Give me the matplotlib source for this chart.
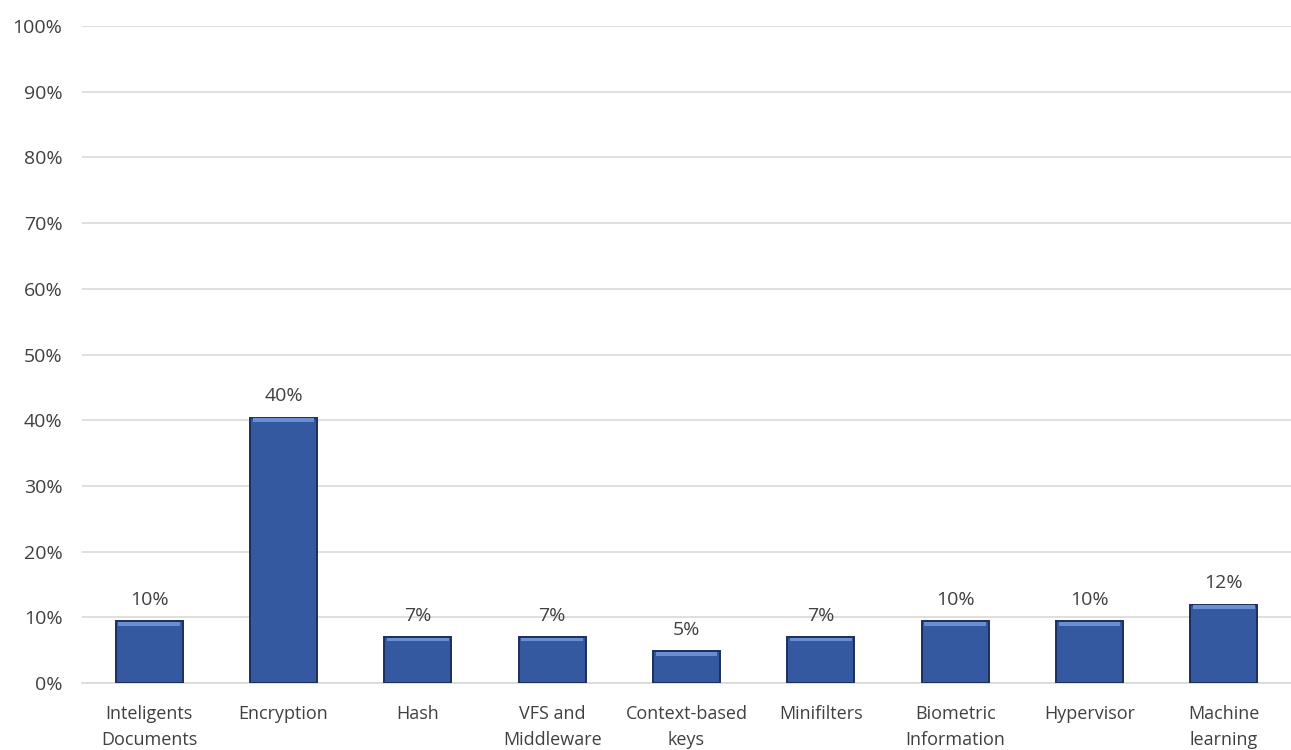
#!/usr/bin/env python3

import matplotlib.pyplot as plt
from matplotlib.ticker import FuncFormatter

categories = [
    "Inteligents\nDocuments",
    "Encryption",
    "Hash",
    "VFS and\nMiddleware",
    "Context-based\nkeys",
    "Minifilters",
    "Biometric\nInformation",
    "Hypervisor",
    "Machine\nlearning",
]
shares = [9.4, 40.4, 7.0, 7.0, 4.8, 7.0, 9.4, 9.4, 11.9]
labels = ["10%", "40%", "7%", "7%", "5%", "7%", "10%", "10%", "12%"]
yticks = list(range(0, 101, 10))


def main():
    plt.rcParams["font.family"] = ["Open Sans", "DejaVu Sans"]
    text_color = "#404040"

    fig = plt.figure(figsize=(12.91, 7.5), dpi=100)
    ax = fig.add_axes([0.0635, 0.0893, 0.9365, 0.876])

    x = range(len(categories))
    ax.bar(x, shares, width=0.5, color="#3459A0", edgecolor="#1B2F5C",
           linewidth=1.4, zorder=3)
    # bevel highlight along the top edge of each bar
    ax.bar(x, [0.55] * len(shares), bottom=[s - 0.65 for s in shares],
           width=0.46, color="#6A8ED2", linewidth=0, zorder=4)

    for xi, s, lab in zip(x, shares, labels):
        ax.annotate(lab, (xi, s), xytext=(0, 9), textcoords="offset points",
                    ha="center", va="bottom", fontsize=14, color=text_color)

    ax.set_xlim(-0.5, len(categories) - 0.5)
    ax.set_ylim(0, 100)
    ax.set_yticks(yticks)
    ax.yaxis.set_major_formatter(FuncFormatter(lambda v, _: f"{v:.0f}%"))
    ax.set_xticks(list(x))
    ax.set_xticklabels(categories, linespacing=1.55, fontsize=13)
    ax.grid(axis="y", color="#D9D9D9", linewidth=1.2, zorder=0)
    ax.tick_params(axis="y", length=0, labelsize=14, colors=text_color, pad=14)
    ax.tick_params(axis="x", length=0, colors=text_color, pad=16)
    for side in ("top", "right", "left"):
        ax.spines[side].set_visible(False)
    ax.spines["bottom"].set_color("#D9D9D9")
    ax.spines["bottom"].set_linewidth(1.2)

    fig.savefig("out.png", dpi=100)
    plt.close(fig)


if __name__ == "__main__":
    main()
